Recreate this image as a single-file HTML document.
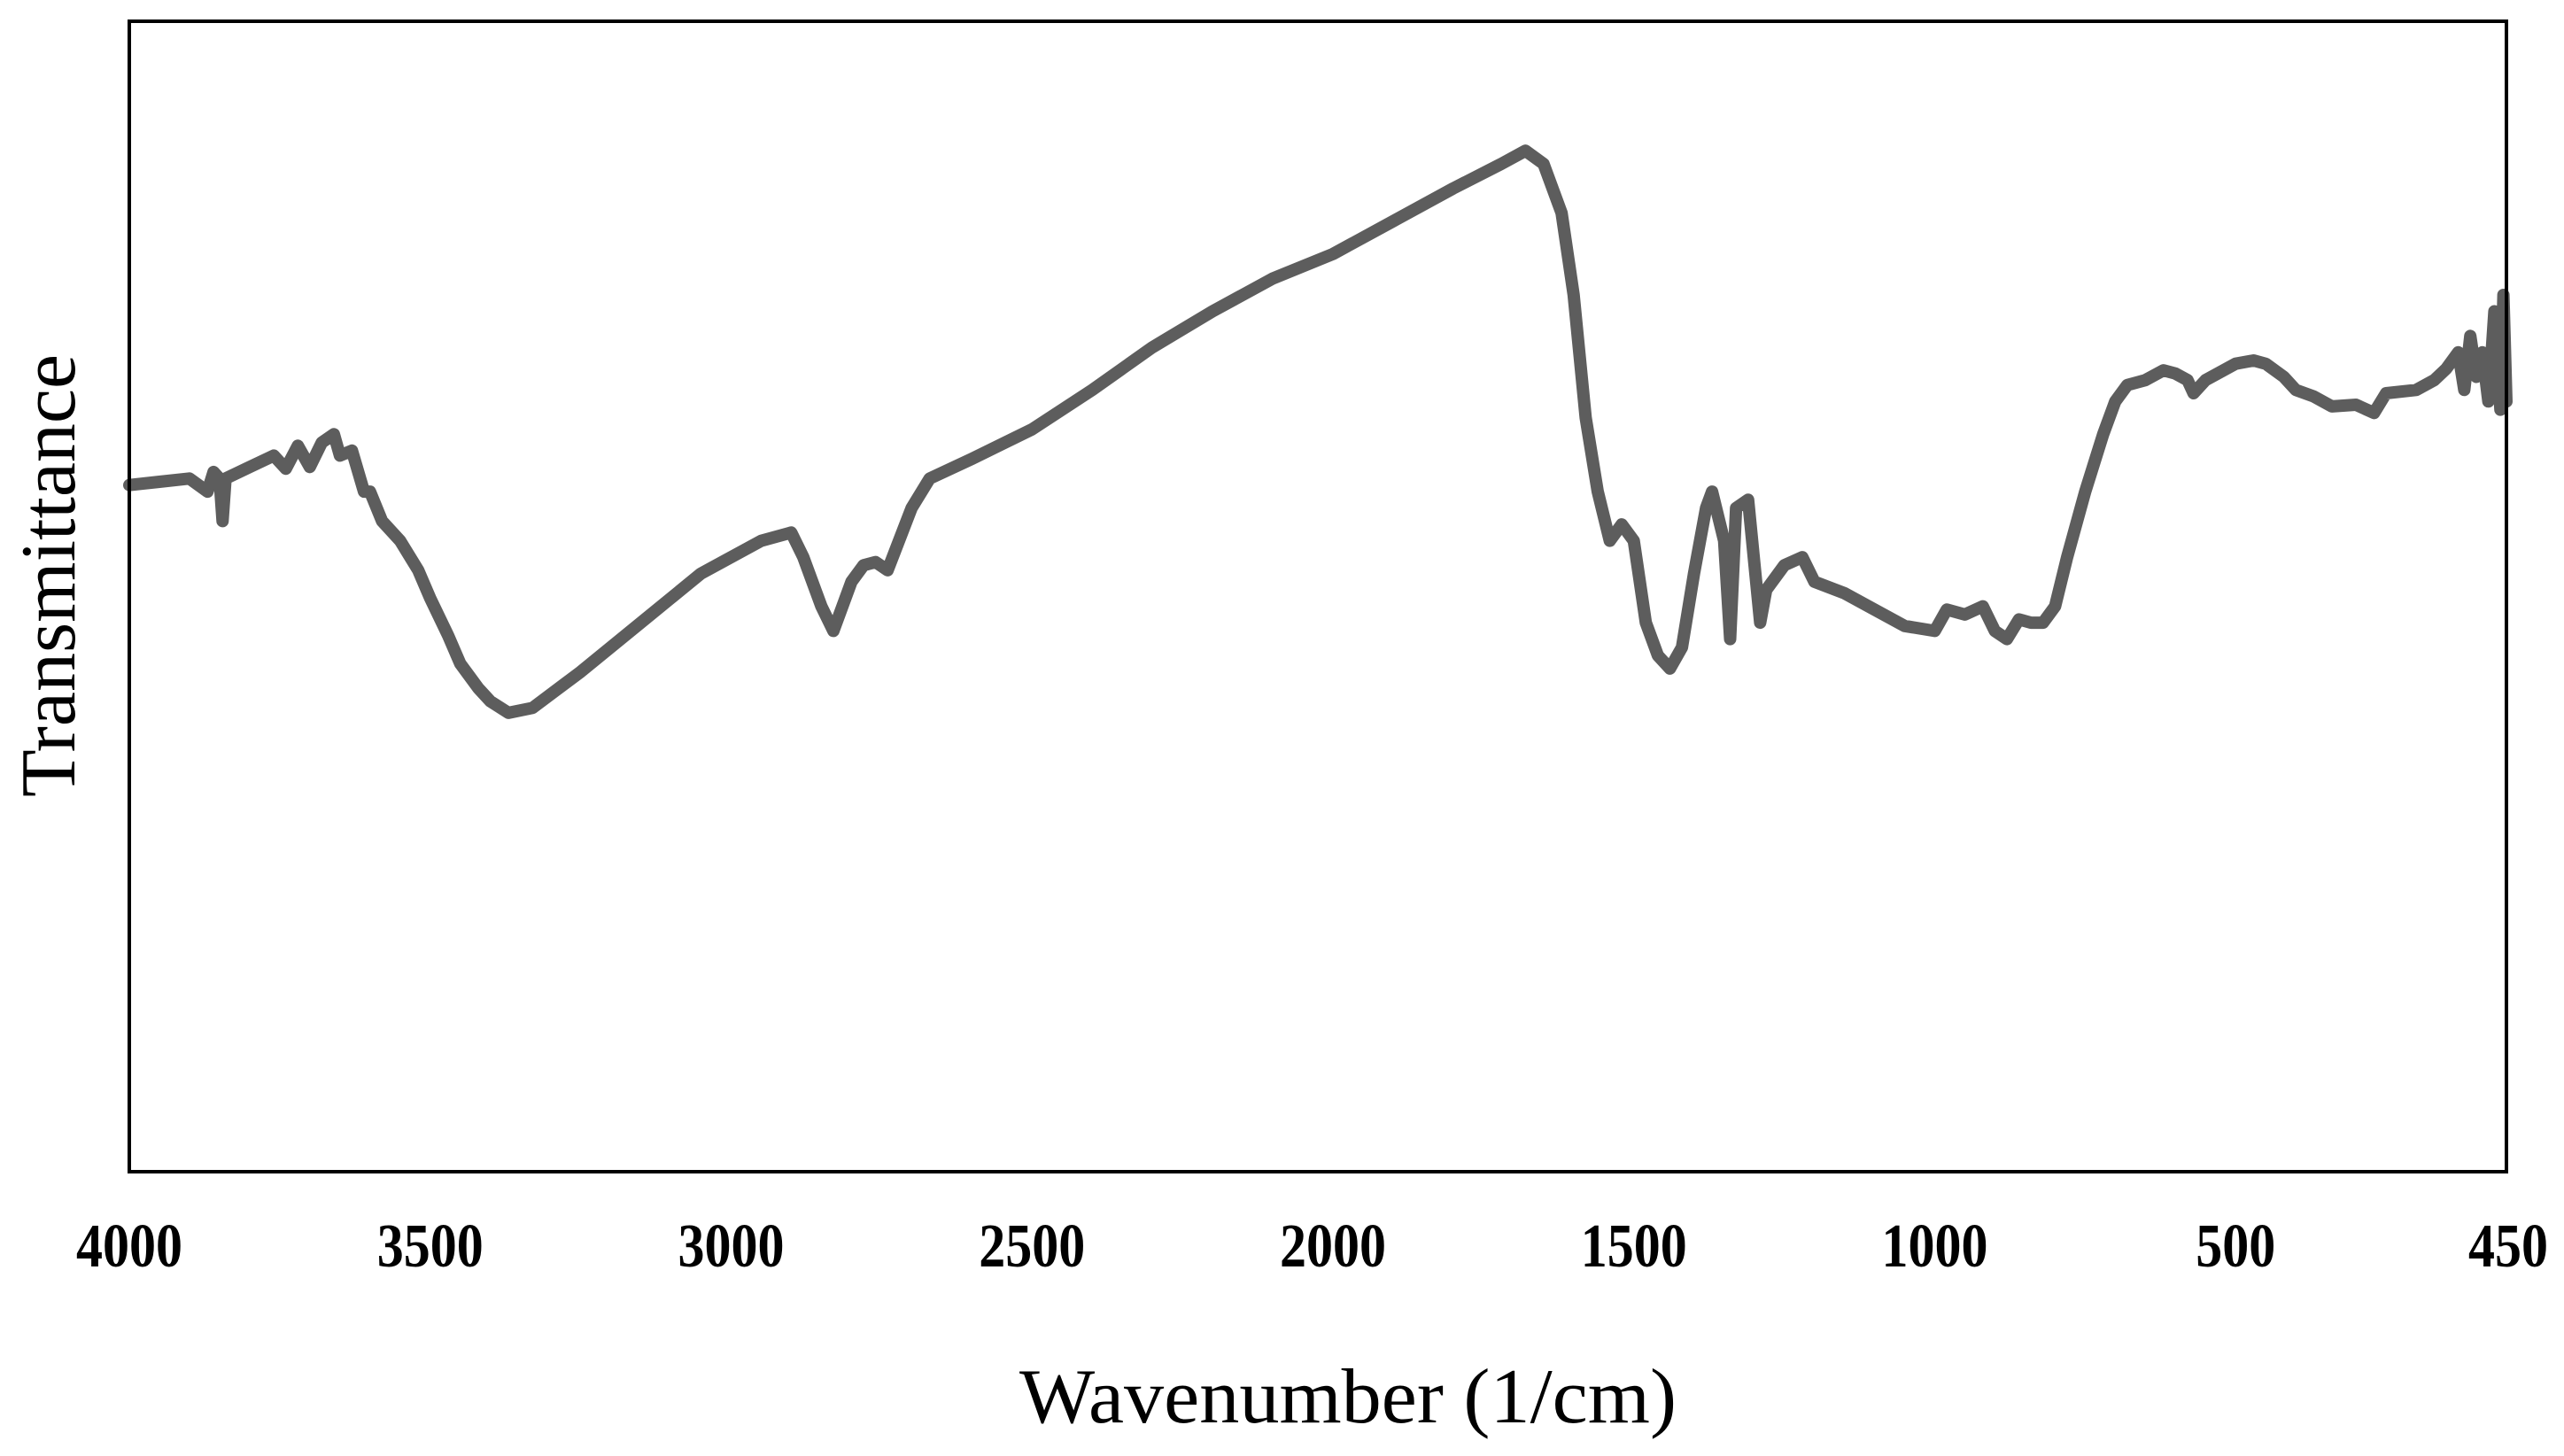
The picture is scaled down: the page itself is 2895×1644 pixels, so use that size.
<!DOCTYPE html>
<html><head><meta charset="utf-8"><style>
html,body{margin:0;padding:0;background:#fff;}
svg{display:block;}
</style></head><body>
<svg id="chart" width="2895" height="1644" viewBox="0 0 2895 1644" xmlns="http://www.w3.org/2000/svg">
<rect x="0" y="0" width="2895" height="1644" fill="#fff"/>
<g id="marks"></g>
<rect x="146" y="24" width="2684" height="1299" fill="none" stroke="#000" stroke-width="4"/>
<g id="ticks"></g>
<text x="1522" y="1606" text-anchor="middle" font-family="Liberation Serif, serif" font-size="88" textLength="742" lengthAdjust="spacingAndGlyphs">Wavenumber (1/cm)</text>
<text transform="translate(84,650) rotate(-90)" text-anchor="middle" font-family="Liberation Serif, serif" font-size="88" textLength="500" lengthAdjust="spacingAndGlyphs">Transmittance</text>
</svg>
<script>
const wavenumbers = [4000,3950,3900,3870,3860,3850,3845,3840,3800,3760,3740,3720,3700,3680,3660,3650,3630,3610,3600,3580,3550,3520,3500,3470,3450,3420,3400,3370,3330,3250,3150,3050,2950,2900,2880,2850,2830,2800,2780,2760,2740,2700,2670,2600,2500,2400,2300,2200,2100,2000,1900,1800,1720,1680,1650,1620,1600,1580,1560,1540,1520,1500,1480,1460,1440,1420,1400,1380,1370,1350,1340,1330,1310,1290,1280,1250,1220,1200,1150,1100,1050,1000,980,950,920,900,880,860,840,820,800,780,750,720,700,680,650,620,600,580,570,550,500,470,450,420,400,370,340,300,270,250,200,170,150,130,120,110,100,90,80,70,60,55,50];
const pixelY = [296,294,292,300,288,292,318,292,285,278,286,272,285,270,265,278,275,300,300,318,330,348,365,388,405,420,428,435,432,410,380,350,330,325,340,370,385,355,345,343,348,310,292,280,262,238,212,190,170,155,135,115,100,92,100,130,180,255,300,330,320,330,380,400,408,395,350,310,300,330,390,310,305,380,360,345,340,355,362,372,382,385,372,375,370,385,390,378,380,380,370,340,300,265,245,235,232,226,228,232,240,232,222,220,222,230,238,242,248,247,252,240,238,232,225,215,238,205,230,215,245,190,250,180,245];
// transmittance in arbitrary % units (0 bottom of frame, 100 top)
const transmittance = pixelY.map(p => (715 - p) / 702 * 100);
const tickValues = [4000,3500,3000,2500,2000,1500,1000,500];
const tickLabels = ["4000","3500","3000","2500","2000","1500","1000","500"];
const endLabel = "450";

const X0 = 146, X1 = 2830, Y0 = 1323, Y1 = 24;
function xScale(w){ return X0 + (4000 - w) / 3950 * (X1 - X0); }
function yScale(t){ return Y0 - t / 100 * (Y0 - Y1); }
const NS = "http://www.w3.org/2000/svg";
const marks = document.getElementById('marks');
let d = "";
wavenumbers.forEach((w,i)=>{ d += (i? "L":"M") + xScale(w).toFixed(1) + " " + yScale(transmittance[i]).toFixed(1) + " "; });
const path = document.createElementNS(NS,'path');
path.setAttribute('d', d);
path.setAttribute('fill','none');
path.setAttribute('stroke','#5d5d5d');
path.setAttribute('stroke-width','14');
path.setAttribute('stroke-linejoin','round');
path.setAttribute('stroke-linecap','round');


marks.appendChild(path);

const ticks = document.getElementById('ticks');
function addLabel(x, s){
  const t = document.createElementNS(NS,'text');
  t.setAttribute('x', x);
  t.setAttribute('y', 1430);
  t.setAttribute('text-anchor','middle');
  t.setAttribute('font-family','Liberation Serif, serif');
  t.setAttribute('font-weight','bold');
  t.setAttribute('font-size','70');
  t.setAttribute('textLength', s.length * 30);
  t.setAttribute('lengthAdjust','spacingAndGlyphs');
  
  
  t.textContent = s;
  ticks.appendChild(t);
}
tickValues.forEach((v,i)=> addLabel(xScale(v), tickLabels[i]));
addLabel(X1 + 2, endLabel);
</script>
</body></html>
